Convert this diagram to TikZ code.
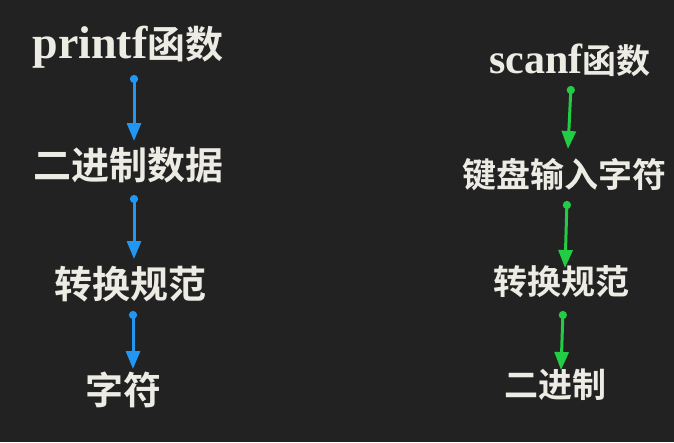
\documentclass[tikz,border=0pt]{standalone}
\usepackage{fontspec}
\setmainfont{Liberation Serif}
\newfontfamily\cjk{Noto Sans CJK SC}[BoldFont={Noto Sans CJK SC Bold}]
\usetikzlibrary{arrows.meta}
\definecolor{bgc}{HTML}{222222}
\definecolor{txt}{HTML}{ECEBE4}
\definecolor{ablue}{HTML}{2196F3}
\definecolor{agreen}{HTML}{22CC44}
\begin{document}
\begin{tikzpicture}[x=1pt,y=-1pt,
  lbl/.style={text=txt,font=\fontsize{38}{38}\selectfont\bfseries\cjk,inner sep=0pt,anchor=center},
  rlbl/.style={lbl,font=\fontsize{34}{34}\selectfont\bfseries\cjk},
  conn/.style={line width=3pt,{Circle[length=8pt]}-{Triangle[length=18pt,width=14pt]}},
  bl/.style={conn,draw=ablue,fill=ablue},
  gr/.style={conn,draw=agreen,fill=agreen}]
\fill[bgc] (0,0) rectangle (674,442);
\useasboundingbox (0,0) rectangle (674,442);
% left column
\node[lbl] (p1) at (128,47) {{\rmfamily\fontsize{46}{46}\selectfont\bfseries printf}函数};
\node[lbl] (p2) at (128,165) {二进制数据};
\node[lbl] (p3) at (130,284) {转换规范};
\node[lbl] (p4) at (123,390) {字符};
\coordinate (a1s) at (134,75);  \coordinate (a1e) at (134,141);
\coordinate (a2s) at (134,195); \coordinate (a2e) at (134,259);
\coordinate (a3s) at (133,311); \coordinate (a3e) at (133,369);
\draw[bl] (a1s) -- (a1e);
\draw[bl] (a2s) -- (a2e);
\draw[bl] (a3s) -- (a3e);
% right column
\node[rlbl] (s1) at (570,60) {{\rmfamily\fontsize{42}{42}\selectfont\bfseries scanf}函数};
\node[rlbl] (s2) at (564,175) {键盘输入字符};
\node[rlbl] (s3) at (561,282) {转换规范};
\node[rlbl] (s4) at (555,385) {二进制};
\coordinate (b1s) at (571,86);  \coordinate (b1e) at (568,149);
\coordinate (b2s) at (567,201); \coordinate (b2e) at (565,268);
\coordinate (b3s) at (563,311); \coordinate (b3e) at (561,370);
\draw[gr] (b1s) -- (b1e);
\draw[gr] (b2s) -- (b2e);
\draw[gr] (b3s) -- (b3e);
\end{tikzpicture}
\end{document}
